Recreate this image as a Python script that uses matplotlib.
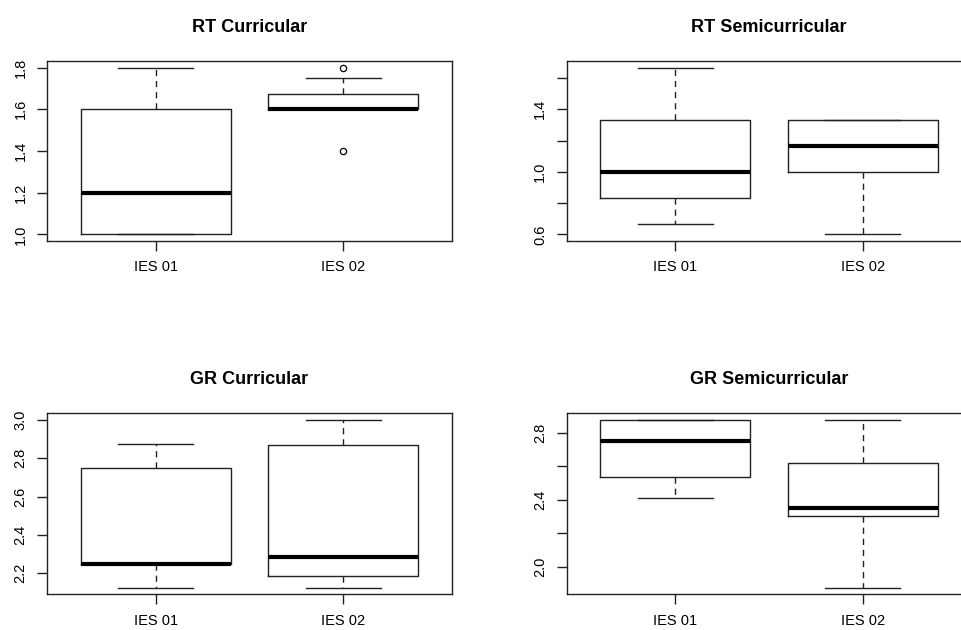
import matplotlib
matplotlib.use("Agg")
import matplotlib.pyplot as plt

plt.rcParams["font.family"] = ["Liberation Sans", "DejaVu Sans"]

groups = ["IES 01", "IES 02"]

# five-number summaries per group: lower whisker, Q1, median, Q3, upper whisker
rt_cur_low = [1.0, 1.6]
rt_cur_q1 = [1.0, 1.6]
rt_cur_med = [1.2, 1.6]
rt_cur_q3 = [1.6, 1.675]
rt_cur_high = [1.8, 1.75]
rt_cur_out = [[], [1.8, 1.4]]

rt_semi_low = [0.667, 0.6]
rt_semi_q1 = [0.833, 1.0]
rt_semi_med = [1.0, 1.167]
rt_semi_q3 = [1.333, 1.333]
rt_semi_high = [1.667, 1.333]
rt_semi_out = [[], []]

gr_cur_low = [2.125, 2.125]
gr_cur_q1 = [2.25, 2.1875]
gr_cur_med = [2.25, 2.286]
gr_cur_q3 = [2.75, 2.867]
gr_cur_high = [2.875, 3.0]
gr_cur_out = [[], []]

gr_semi_low = [2.41, 1.875]
gr_semi_q1 = [2.533, 2.30]
gr_semi_med = [2.75, 2.35]
gr_semi_q3 = [2.875, 2.62]
gr_semi_high = [2.875, 2.875]
gr_semi_out = [[], []]

panels = [
    ("RT Curricular", rt_cur_low, rt_cur_q1, rt_cur_med, rt_cur_q3, rt_cur_high, rt_cur_out,
     [1.0, 1.2, 1.4, 1.6, 1.8], [1.0, 1.2, 1.4, 1.6, 1.8]),
    ("RT Semicurricular", rt_semi_low, rt_semi_q1, rt_semi_med, rt_semi_q3, rt_semi_high, rt_semi_out,
     [0.6, 0.8, 1.0, 1.2, 1.4, 1.6], [0.6, 1.0, 1.4]),
    ("GR Curricular", gr_cur_low, gr_cur_q1, gr_cur_med, gr_cur_q3, gr_cur_high, gr_cur_out,
     [2.2, 2.4, 2.6, 2.8, 3.0], [2.2, 2.4, 2.6, 2.8, 3.0]),
    ("GR Semicurricular", gr_semi_low, gr_semi_q1, gr_semi_med, gr_semi_q3, gr_semi_high, gr_semi_out,
     [2.0, 2.2, 2.4, 2.6, 2.8], [2.0, 2.4, 2.8]),
]

# axes rectangles in figure fractions (right column runs past the edge)
W, H = 962, 630
rects = [
    (47 / W, (H - 241) / H, 405 / W, 180 / H),
    (566.7 / W, (H - 241) / H, 405 / W, 180 / H),
    (47 / W, (H - 594.3) / H, 405 / W, 181 / H),
    (566.7 / W, (H - 594.3) / H, 405 / W, 181 / H),
]

LC = "#222222"
fig = plt.figure(figsize=(W / 100, H / 100), dpi=100)

for rect, (title, lo, q1, med, q3, hi, out, ticks, labelled) in zip(rects, panels):
    ax = fig.add_axes(rect)
    stats = []
    for i in range(len(groups)):
        stats.append(dict(whislo=lo[i], q1=q1[i], med=med[i], q3=q3[i], whishi=hi[i],
                          fliers=out[i], label=groups[i]))
    ax.bxp(stats, positions=[1, 2], widths=0.8, capwidths=0.4, showfliers=True,
           boxprops=dict(color=LC, linewidth=1.0),
           medianprops=dict(color="black", linewidth=3.0, solid_capstyle="butt"),
           whiskerprops=dict(color=LC, linewidth=1.0, linestyle=(0, (4.5, 3.5))),
           capprops=dict(color=LC, linewidth=1.0),
           flierprops=dict(marker="o", markerfacecolor="none", markeredgecolor="black",
                           markersize=4.5, markeredgewidth=0.9))

    ymin = min(min(lo), min([min(o) for o in out if o], default=min(lo)))
    ymax = max(max(hi), max([max(o) for o in out if o], default=max(hi)))
    pad = 0.04 * (ymax - ymin)
    ax.set_ylim(ymin - pad, ymax + pad)
    ax.set_xlim(0.42, 2.58)

    ax.set_yticks(ticks)
    ax.set_yticklabels([f"{t:.1f}" if t in labelled else "" for t in ticks])
    for lab in ax.get_yticklabels():
        lab.set_rotation(90)
        lab.set_va("center")
    ax.set_xticks([1, 2])
    ax.set_xticklabels(groups)

    ax.tick_params(axis="both", direction="out", length=7, width=1.0, color=LC,
                   labelsize=10.5, pad=7)
    for sp in ax.spines.values():
        sp.set_color(LC)
        sp.set_linewidth(1.0)
    ax.set_title(title, fontsize=13, fontweight="bold", pad=21)

fig.savefig("out.png", dpi=100)
